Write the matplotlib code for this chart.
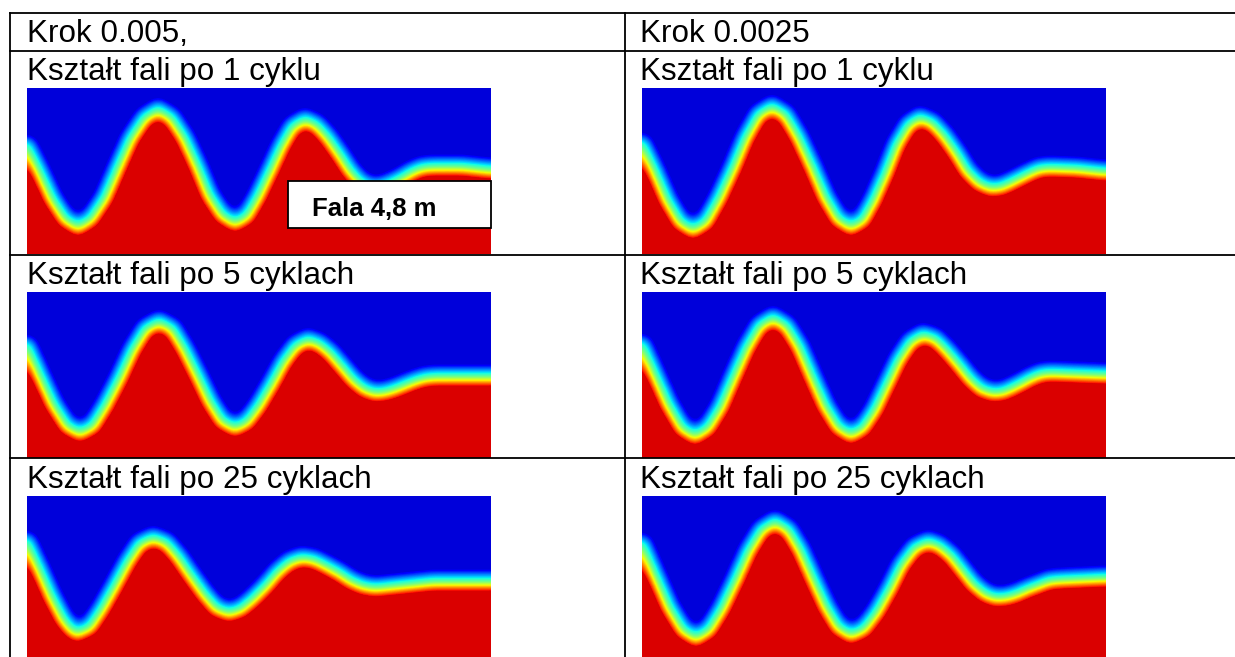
import numpy as np
import matplotlib
matplotlib.use('Agg')
import matplotlib.pyplot as plt
from matplotlib.colors import ListedColormap
from matplotlib.patches import Rectangle

plt.rcParams['font.family'] = ['Liberation Sans', 'DejaVu Sans']

# table texts
col_titles = ['Krok 0.005,', 'Krok 0.0025']
row_titles = ['Kształt fali po 1 cyklu', 'Kształt fali po 5 cyklach', 'Kształt fali po 25 cyklach']
box_label = 'Fala 4,8 m'

# free surface read off each snapshot
# x = along the tank, y = depth below top of the frame (picture px, frame is 464 x 166)
# step 0.005
l1_x = [0, 12, 25, 38, 51, 64, 78, 91, 104, 118, 131, 144, 157, 170, 182, 195, 208,
        220, 231, 243, 255, 266, 278, 289, 300, 312, 323, 334, 345, 355, 365, 375, 385,
        395, 405, 435, 463]
l1_y = [59, 83, 111, 131, 139, 131, 110, 80, 51, 30, 22, 30, 50, 78, 107, 127, 135,
        128, 109, 84, 58, 39, 32, 37, 49, 66, 83, 95, 100, 99, 95, 90, 84,
        80, 79, 79, 82]
l2_x = [0, 13, 26, 40, 53, 66, 79, 93, 106, 119, 132, 145, 157, 170, 183, 195, 208,
        220, 232, 245, 257, 269, 281, 292, 303, 315, 326, 337, 348, 358, 368, 378, 388,
        398, 408, 435, 463]
l2_y = [55, 84, 112, 134, 141, 134, 113, 86, 58, 37, 30, 37, 57, 83, 110, 129, 136,
        130, 114, 92, 70, 54, 48, 52, 61, 75, 88, 97, 101, 100, 97, 93, 89,
        86, 85, 85, 85]
l3_x = [0, 12, 24, 36, 44, 50, 63, 75, 88, 101, 113, 126, 139, 151, 164, 177, 189, 202,
        214, 226, 239, 251, 263, 275, 287, 299, 312, 324, 336, 348, 377, 406, 435, 463]
l3_y = [47, 73, 100, 123, 133, 137, 131, 113, 90, 66, 48, 42, 47, 61, 80, 98, 112, 117,
        113, 103, 90, 76, 66, 62, 64, 70, 77, 85, 90, 92, 89, 86, 86, 86]
# step 0.0025
r1_x = [0, 12, 25, 38, 51, 64, 77, 91, 104, 117, 130, 143, 156, 170, 183, 196, 209,
        221, 232, 244, 255, 267, 278, 290, 302, 314, 325, 337, 349, 359, 368, 378, 388,
        397, 407, 435, 463]
r1_y = [57, 82, 112, 134, 142, 134, 111, 81, 50, 27, 19, 27, 49, 79, 109, 131, 139,
        132, 112, 85, 57, 37, 30, 35, 48, 65, 83, 95, 100, 99, 95, 90, 85,
        81, 80, 81, 84]
r2_x = [0, 13, 26, 40, 53, 66, 79, 92, 105, 118, 131, 144, 157, 170, 183, 196, 209,
        221, 233, 245, 257, 269, 281, 293, 304, 316, 328, 339, 351, 361, 370, 380, 389,
        399, 408, 435, 463]
r2_y = [54, 83, 112, 136, 144, 136, 115, 85, 56, 34, 26, 34, 55, 85, 114, 135, 143,
        136, 118, 93, 68, 50, 43, 47, 58, 72, 87, 97, 101, 100, 96, 91, 86,
        82, 81, 82, 83]
r3_x = [0, 13, 27, 41, 54, 67, 80, 94, 107, 120, 133, 146, 158, 171, 184, 196, 209,
        222, 235, 248, 260, 273, 286, 297, 309, 320, 331, 343, 354, 365, 375, 386, 397,
        407, 418, 440, 463]
r3_y = [49, 79, 111, 134, 142, 134, 113, 84, 55, 34, 26, 34, 54, 83, 111, 131, 139,
        133, 116, 93, 69, 52, 46, 50, 60, 74, 88, 98, 102, 101, 98, 93, 89,
        85, 84, 83, 82]

surfaces = [[(l1_x, l1_y), (r1_x, r1_y)],
            [(l2_x, l2_y), (r2_x, r2_y)],
            [(l3_x, l3_y), (r3_x, r3_y)]]

FW, FH = 464, 166
cmap = ListedColormap(plt.cm.jet(np.linspace(0.08, 0.92, 256)))


def blur(a, s):
    k = np.exp(-0.5 * (np.arange(-3 * s, 3 * s + 1) / s) ** 2)
    k /= k.sum()
    p = len(k) // 2
    a = np.pad(a, p, mode='edge')
    a = np.apply_along_axis(lambda m: np.convolve(m, k, mode='valid'), 0, a)
    a = np.apply_along_axis(lambda m: np.convolve(m, k, mode='valid'), 1, a)
    return a


def volume_fraction(sx, sy, up=13.0, down=9.0):
    # signed distance of every pixel to the surface line, mapped into 0..1
    sx = np.asarray(sx, float)
    sy = np.asarray(sy, float)
    gx, gy = np.meshgrid(np.arange(FW) + 0.5, np.arange(FH) + 0.5)
    x0, y0 = sx[:-1], sy[:-1]
    dx, dy = np.diff(sx), np.diff(sy)
    P = gx[..., None]
    Q = gy[..., None]
    t = np.clip(((P - x0) * dx + (Q - y0) * dy) / (dx * dx + dy * dy), 0, 1)
    dist = np.hypot(P - (x0 + t * dx), Q - (y0 + t * dy)).min(axis=-1)
    below = gy > np.interp(gx, sx, sy)
    dist = blur(np.where(below, dist, -dist), 4)
    v = np.where(dist < 0, 0.5 + 0.5 * dist / up, 0.5 + 0.5 * dist / down)
    return np.clip(v, 0, 1)


W, H = 1235, 657
fig = plt.figure(figsize=(W / 100, H / 100), dpi=100)

col_left = [27, 642]
text_left = [27, 640]
img_top = [88, 292, 496]

for r in range(3):
    for c in range(2):
        sx, sy = surfaces[r][c]
        ax = fig.add_axes([col_left[c] / W, 1 - (img_top[r] + FH) / H, FW / W, FH / H])
        ax.imshow(volume_fraction(sx, sy), cmap=cmap, vmin=0, vmax=1,
                  extent=(0, FW, FH, 0), aspect='auto', interpolation='bilinear')
        ax.set_xlim(0, FW)
        ax.set_ylim(FH, 0)
        ax.axis('off')

# table frame and texts on top, in picture pixels
ov = fig.add_axes([0, 0, 1, 1])
ov.set_zorder(10)
ov.patch.set_alpha(0)
ov.set_xlim(0, W)
ov.set_ylim(H, 0)
ov.axis('off')

lw = 1.3
for y in [12.7, 51, 255, 458]:
    ov.plot([10, W], [y, y], color='black', lw=lw)
for x in [10, 625]:
    ov.plot([x, x], [12.7, H], color='black', lw=lw)

for c in range(2):
    ov.text(text_left[c], 42, col_titles[c], fontsize=22.6, va='baseline', ha='left')
    for r in range(3):
        ov.text(text_left[c], img_top[r] - 8, row_titles[r], fontsize=22.6,
                va='baseline', ha='left')

ov.add_patch(Rectangle((288, 181), 203, 47, facecolor='white', edgecolor='black', lw=1.3))
ov.text(312, 215.5, box_label, fontsize=18.5, fontweight='bold', va='baseline', ha='left')

fig.savefig('out.png', dpi=100)
